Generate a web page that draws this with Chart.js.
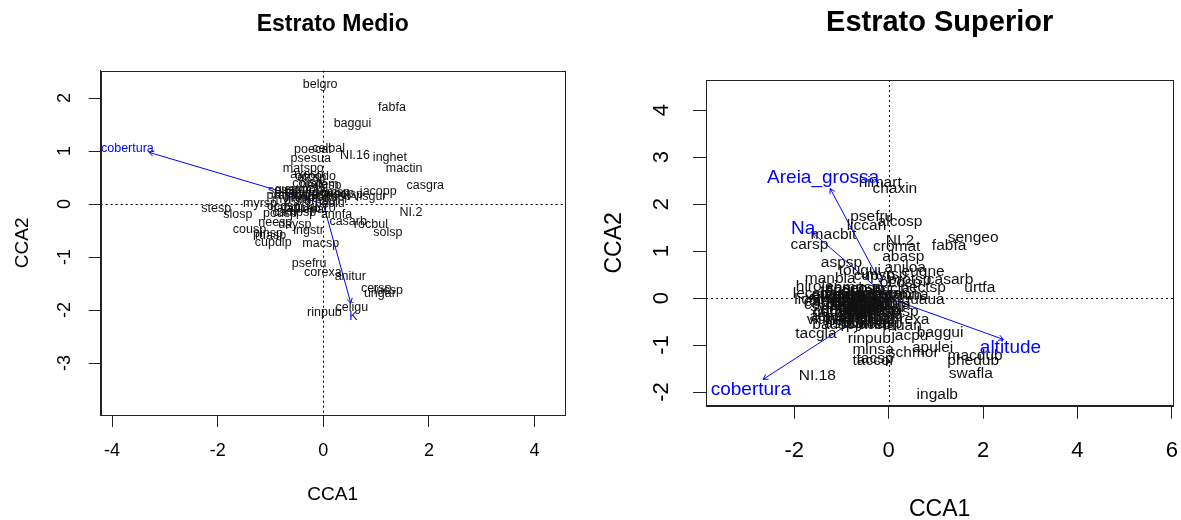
<!DOCTYPE html>
<html><head><meta charset="utf-8">
<script src="https://cdn.jsdelivr.net/npm/chart.js@4.4.1/dist/chart.umd.min.js"></script>
<style>
html,body{margin:0;padding:0;background:#fff;}
#wrap{position:relative;width:1181px;height:520px;overflow:hidden;}
.pane{position:absolute;top:0;height:520px;}
</style></head>
<body><div id="wrap">
<div class="pane" style="left:0;width:590px"><canvas id="c1" width="590" height="520"></canvas></div>
<div class="pane" style="left:590px;width:591px"><canvas id="c2" width="591" height="520"></canvas></div>
</div>
<script>
// ---------- Estrato Medio ----------
const medioSpecies = ['belgro','fabfa','baggui','poecat','celbal','NI.16','inghet','psesua','mactin','matspo','casgra','axesp','alcsp','ocoodo','protem','corsp','eugsp','jacopp','visgur','cupsp','gomsp','nectsp','ormsp','sessp','guasp','prasp','myrcsp','lamsp','garsp','symsp','ilesp','maysp','psolu','myrsp','stesp','slosp','tapgu','lauceo','ilepar','NI.10','ocosp','pousp','campsp','annfa','neesp','daysp','casarb','rocbul','NI.2','cousp','ingstr','pinsp','ruasp','cupdip','macsp','solsp','psefru','corexa','anitur','cersp','ungar','lucsp','celigu','rinpub','eugmul','myrgla','sloman'];
const medioX = [-0.06,1.30,0.55,-0.20,0.10,0.60,1.26,-0.24,1.53,-0.38,1.93,-0.31,-0.22,-0.15,-0.08,-0.30,0.02,1.04,0.88,0.27,0.15,0.40,0.20,-0.74,-0.60,-0.78,-0.55,-0.40,-0.45,-0.25,-0.10,0.05,0.12,-1.20,-2.03,-1.62,-0.65,-0.40,-0.20,-0.05,-0.75,-0.82,-0.55,0.25,-0.91,-0.54,0.47,0.90,1.66,-1.40,-0.28,-1.05,-1.00,-0.95,-0.05,1.22,-0.27,-0.01,0.51,1.00,1.07,1.23,0.54,0.02,-0.35,-0.62,-0.15];
const medioY = [2.25,1.82,1.52,1.03,1.05,0.91,0.87,0.86,0.66,0.66,0.35,0.55,0.49,0.52,0.37,0.38,0.34,0.23,0.14,0.20,0.22,0.18,0.14,0.25,0.27,0.16,0.16,0.20,0.12,0.20,0.18,0.12,0.00,0.01,-0.08,-0.19,-0.08,-0.09,-0.10,-0.08,-0.05,-0.18,-0.17,-0.19,-0.35,-0.38,-0.33,-0.38,-0.16,-0.48,-0.50,-0.56,-0.59,-0.73,-0.74,-0.54,-1.12,-1.30,-1.37,-1.59,-1.69,-1.64,-1.95,-2.04,0.28,0.08,0.05];
const medioVars = ['cobertura','K'];
const medioVarX = [-3.30, 0.52];
const medioVarY = [0.975, -1.87];
const medioVarLabX = [-3.71, 0.57];
const medioVarLabY = [1.05, -2.13];
const medioXTicks = [-4,-2,0,2,4];
const medioYTicks = [-3,-2,-1,0,1,2];

// ---------- Estrato Superior ----------
const superSpecies = ['himart','chaxin','psefru','alcosp','liccan','macbit','carsp','NI.2','cromat','fabfa','sengeo','abasp','aspsp','aniloa','tougui','eugne','casarb','manbla','cupsp','myrsp','ocosp','protsp','nectsp','urtfa','hirolei','lecsp','licsp','guaua','ormna','ingsp','corexa','acesp','bausp','jacsp','lauan','tacgla','baggui','jacpu','rinpub','apulei','minsa','schmor','tacsp','taccor','macdub','phedub','swafla','NI.18','ingalb',
 'eugflo','myrspl','casdec','cabcan','matgui','ocopul','nectop','cupver','guaopp','alcgla','sloman','pracan','lonsp','daphsp','cordsp','vitmeg','amaig','rudsp','sebsp','campsp','tapgui','ilebr','psycar','mollsp','aspcyl','ormfa','pipsp','xylsp','symcel','rapfe','tricla','zanrh','cedfi','hiesp','micsp',
 'eugsp','myrcsp','ocodiv','nectme','guagui','cabsp','roupi','allsp','ingmar','casobl','garga','byrsp','matsp','pousp','dendsp','amasp','virsp','lamter','sorbon','anaco'];
const superX = [-0.18,0.13,-0.36,0.24,-0.47,-1.17,-1.68,0.24,0.17,1.28,1.79,0.31,-1.00,0.35,-0.61,0.73,1.30,-1.24,-0.30,-0.05,0.25,0.45,0.73,1.93,-1.53,-1.65,-1.67,0.73,0.38,0.24,0.37,-1.24,-1.17,-0.33,0.30,-1.54,1.09,0.45,-0.41,0.93,-0.33,0.52,-0.29,-0.32,1.83,1.79,1.74,-1.51,1.03,
 -1.20,-1.05,-0.90,-0.80,-0.70,-0.60,-0.95,-1.10,-0.50,-0.40,-0.30,-0.85,-0.65,-0.45,-1.30,-1.25,-0.20,-0.15,-0.55,-0.75,-1.00,-0.35,-0.10,-0.60,-0.90,0.05,-0.25,-1.40,-1.15,-0.45,0.10,0.30,-0.05,-0.70,-0.35,
 -1.35,-1.10,-0.85,-0.65,-0.45,-0.25,-0.95,-0.75,-0.55,-0.15,-1.20,-1.00,-0.80,-0.60,-0.40,-0.20,-0.70,-0.50,-0.30,-0.90];
const superY = [2.45,2.32,1.74,1.63,1.55,1.34,1.13,1.21,1.09,1.11,1.29,0.88,0.76,0.64,0.58,0.57,0.40,0.42,0.47,0.50,0.32,0.40,0.21,0.21,0.24,0.10,-0.03,-0.04,0.08,-0.30,-0.45,-0.40,-0.57,-0.56,-0.58,-0.75,-0.74,-0.80,-0.86,-1.05,-1.09,-1.16,-1.30,-1.33,-1.23,-1.34,-1.62,-1.66,-2.06,
 0.05,-0.05,0.10,-0.10,0.00,-0.20,-0.25,-0.30,0.05,-0.10,-0.25,-0.40,-0.35,-0.40,-0.15,-0.45,-0.05,-0.30,0.20,0.22,0.15,0.15,0.10,-0.50,-0.55,-0.15,-0.45,0.00,-0.18,-0.25,0.20,0.05,-0.40,-0.15,0.02,
 -0.08,0.08,-0.02,0.08,-0.15,0.10,-0.12,-0.28,-0.05,-0.20,-0.32,-0.42,-0.20,-0.30,-0.35,-0.55,-0.45,-0.55,-0.12,0.20];
const superVars = ['Areia_grossa','Na','cobertura','altitude'];
const superVarX = [-1.24,-1.61,-2.66,2.43];
const superVarY = [2.33,1.39,-1.73,-0.88];
const superVarLabX = [-1.39,-1.81,-2.92,2.58];
const superVarLabY = [2.55,1.48,-1.96,-1.05];
const superXTicks = [-2,0,2,4,6];
const superYTicks = [-2,-1,0,1,2,3,4];

const FONT = '"Liberation Sans", Arial, sans-serif';

const biplotPlugin = {
  id: 'biplot',
  beforeDatasetsDraw(chart, args, o) {
    const ctx = chart.ctx, a = chart.chartArea, xs = chart.scales.x, ys = chart.scales.y;
    ctx.save();
    ctx.strokeStyle = '#000'; ctx.lineWidth = 1; ctx.setLineDash([2,3]);
    const x0 = Math.round(xs.getPixelForValue(0)) + 0.5, y0 = Math.round(ys.getPixelForValue(0)) + 0.5;
    ctx.beginPath(); ctx.moveTo(x0, a.top); ctx.lineTo(x0, a.bottom); ctx.stroke();
    ctx.beginPath(); ctx.moveTo(a.left, y0); ctx.lineTo(a.right, y0); ctx.stroke();
    ctx.restore();
  },
  afterDatasetsDraw(chart, args, o) {
    const ctx = chart.ctx, xs = chart.scales.x, ys = chart.scales.y;
    ctx.save();
    ctx.textAlign = 'center'; ctx.textBaseline = 'middle';
    ctx.fillStyle = '#111';
    ctx.font = o.spFont + 'px ' + FONT;
    chart.data.datasets[0].data.forEach(p => ctx.fillText(p.label, xs.getPixelForValue(p.x), ys.getPixelForValue(p.y)));
    ctx.strokeStyle = '#0000FF'; ctx.fillStyle = '#0000FF'; ctx.lineWidth = 1;
    ctx.font = o.varFont + 'px ' + FONT;
    o.vars.forEach(v => {
      const tx = xs.getPixelForValue(v.x), ty = ys.getPixelForValue(v.y);
      const ox = xs.getPixelForValue(0), oy = ys.getPixelForValue(0);
      const ang = Math.atan2(ty - oy, tx - ox), L = 5.5;
      ctx.beginPath();
      ctx.moveTo(tx - L*Math.cos(ang - Math.PI/6), ty - L*Math.sin(ang - Math.PI/6));
      ctx.lineTo(tx, ty);
      ctx.lineTo(tx - L*Math.cos(ang + Math.PI/6), ty - L*Math.sin(ang + Math.PI/6));
      ctx.stroke();
      ctx.fillText(v.name, xs.getPixelForValue(v.lx), ys.getPixelForValue(v.ly));
    });
    ctx.restore();
  },
  afterDraw(chart, args, o) {
    const ctx = chart.ctx, a = chart.chartArea, xs = chart.scales.x, ys = chart.scales.y;
    ctx.save();
    ctx.strokeStyle = '#222'; ctx.lineWidth = 1;
    ctx.strokeRect(Math.round(a.left)+0.5, Math.round(a.top)+0.5, Math.round(a.right-a.left), Math.round(a.bottom-a.top));
    ctx.fillStyle = '#000';
    ctx.textAlign = 'center'; ctx.textBaseline = 'middle';
    ctx.font = o.tickFont + 'px ' + FONT;
    o.xTicks.forEach(t => ctx.fillText(String(t), xs.getPixelForValue(t), a.bottom + o.xTickOff));
    o.yTicks.forEach(t => {
      ctx.save(); ctx.translate(a.left - o.yTickOff, ys.getPixelForValue(t)); ctx.rotate(-Math.PI/2);
      ctx.fillText(String(t), 0, 0); ctx.restore();
    });
    ctx.font = o.labFont + 'px ' + FONT;
    ctx.fillText('CCA1', (a.left + a.right)/2, a.bottom + o.xLabOff);
    ctx.save(); ctx.translate(a.left - o.yLabOff, (a.top + a.bottom)/2); ctx.rotate(-Math.PI/2);
    ctx.fillText('CCA2', 0, 0); ctx.restore();
    ctx.font = 'bold ' + o.titleFont + 'px ' + FONT;
    ctx.fillText(o.title, (a.left + a.right)/2, a.top - o.titleOff);
    ctx.restore();
  }
};

function makeChart(id, sp, xs, ys, vn, vx, vy, vlx, vly, xr, yr, xt, yt, lay, style) {
  const spData = sp.map((s, i) => ({x: xs[i], y: ys[i], label: s}));
  const datasets = [{type:'scatter', data: spData, pointRadius: 0, pointHoverRadius: 0, showLine: false}];
  vn.forEach((n, i) => datasets.push({type:'line', data:[{x:0,y:0},{x:vx[i],y:vy[i]}], borderColor:'#0000FF', borderWidth:1, pointRadius:0, fill:false, tension:0}));
  const tickCfg = (vals, len) => ({
    afterBuildTicks: s => { s.ticks = vals.map(v => ({value: v})); },
    ticks: {display: false},
    grid: {drawOnChartArea: false, drawTicks: true, tickLength: len, color: '#222', offset: false},
    border: {display: true, color: '#222'}
  });
  const xCfg = Object.assign({type:'linear', min: xr[0], max: xr[1]}, tickCfg(xt, style.tickLen));
  xCfg.afterFit = s => { s.height = lay.xH; };
  const yCfg = Object.assign({type:'linear', min: yr[0], max: yr[1]}, tickCfg(yt, style.tickLen));
  yCfg.afterFit = s => { s.width = lay.yW; };
  return new Chart(document.getElementById(id), {
    type: 'scatter',
    data: {datasets},
    options: {
      responsive: false, animation: false, events: [],
      layout: {padding: {top: lay.top, right: lay.right, left: 0, bottom: 0}},
      scales: {x: xCfg, y: yCfg},
      plugins: {
        legend: {display: false}, tooltip: {enabled: false}, title: {display: false},
        biplot: Object.assign({
          vars: vn.map((n, i) => ({name: n, x: vx[i], y: vy[i], lx: vlx[i], ly: vly[i]})),
          xTicks: xt, yTicks: yt
        }, style)
      }
    },
    plugins: [biplotPlugin]
  });
}

Chart.defaults.font.family = FONT;

makeChart('c1', medioSpecies, medioX, medioY, medioVars, medioVarX, medioVarY, medioVarLabX, medioVarLabY,
  [-4.216, 4.57], [-3.98, 2.515], medioXTicks, medioYTicks,
  {top: 70.7, right: 25.3, xH: 105, yW: 100.7},
  {title: 'Estrato Medio', titleFont: 23, titleOff: 46, tickFont: 18, labFont: 19, spFont: 12.5, varFont: 12.5,
   xTickOff: 36, yTickOff: 36, xLabOff: 80, yLabOff: 78, tickLen: 12});

makeChart('c2', superSpecies, superX, superY, superVars, superVarX, superVarY, superVarLabX, superVarLabY,
  [-3.87, 6.03], [-2.29, 4.64], superXTicks, superYTicks,
  {top: 80, right: 7.7, xH: 114.3, yW: 116},
  {title: 'Estrato Superior', titleFont: 29, titleOff: 57, tickFont: 22, labFont: 23, spFont: 15.5, varFont: 19,
   xTickOff: 45, yTickOff: 44, xLabOff: 104, yLabOff: 91, tickLen: 13});
</script>
</body></html>
